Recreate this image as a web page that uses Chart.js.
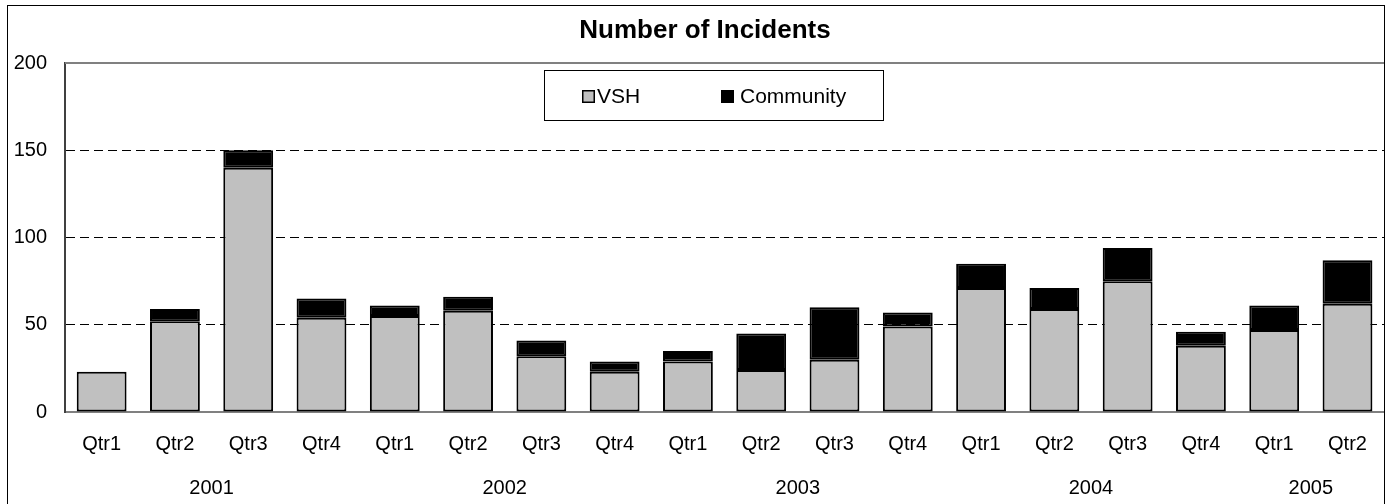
<!DOCTYPE html>
<html>
<head>
<meta charset="utf-8">
<script src="https://cdn.jsdelivr.net/npm/chart.js@4/dist/chart.umd.min.js"></script>
<style>
  html, body { margin: 0; padding: 0; background: #fff; }
  #wrap { width: 1387px; height: 504px; }
</style>
</head>
<body>
<div id="wrap"><canvas id="incidents_plot" width="1387" height="504"></canvas></div>
<script>
// quarters on the x axis, years grouped underneath
var quarters = ["Qtr1", "Qtr2", "Qtr3", "Qtr4", "Qtr1", "Qtr2", "Qtr3", "Qtr4", "Qtr1",
                "Qtr2", "Qtr3", "Qtr4", "Qtr1", "Qtr2", "Qtr3", "Qtr4", "Qtr1", "Qtr2"];
var years = ["2001", "2002", "2003", "2004", "2005"];
var quartersPerYear = [4, 4, 4, 4, 2];

var vsh = [23, 52, 140, 54, 55, 58, 32, 23, 29, 24, 30, 49, 71, 59, 75, 38, 47, 62];
var community = [0, 7, 10, 11, 6, 8, 9, 6, 6, 21, 30, 8, 14, 12, 19, 8, 14, 25];

var yTicks = [0, 50, 100, 150, 200];

var FONT = "'Liberation Sans', Arial, sans-serif";

// centre of each year group in category units
var yearCentres = [];
var start = 0;
for (var i = 0; i < years.length; i++) {
    yearCentres.push(start + (quartersPerYear[i] - 1) / 2);
    start += quartersPerYear[i];
}

var framePlugin = {
    id: "frame",
    beforeDraw: function (chart) {
        var ctx = chart.ctx;
        ctx.save();
        ctx.fillStyle = "#fff";
        ctx.fillRect(0, 0, chart.width, chart.height);
        ctx.restore();
    },
    afterDraw: function (chart) {
        var ctx = chart.ctx;
        var a = chart.chartArea;
        ctx.save();
        // top edge of plot area
        ctx.strokeStyle = "#808080";
        ctx.lineWidth = 2;
        ctx.beginPath();
        ctx.moveTo(a.left, a.top);
        ctx.lineTo(a.right, a.top);
        ctx.stroke();
        // chart border
        ctx.strokeStyle = "#000";
        ctx.lineWidth = 1;
        ctx.strokeRect(7.5, 5.5, 1377, 520);
        // title
        ctx.fillStyle = "#000";
        ctx.font = "bold 26px " + FONT;
        ctx.textAlign = "center";
        ctx.textBaseline = "alphabetic";
        ctx.fillText("Number of Incidents", 705, 38);
        // legend box
        ctx.lineWidth = 1;
        ctx.strokeStyle = "#000";
        ctx.fillStyle = "#fff";
        ctx.fillRect(544.5, 70.5, 339, 50);
        ctx.strokeRect(544.5, 70.5, 339, 50);
        var items = [[582, 597], [721, 740]];
        ctx.font = "21px " + FONT;
        ctx.textAlign = "left";
        ctx.textBaseline = "middle";
        chart.data.datasets.forEach(function (ds, k) {
            var it = items[k];
            ctx.fillStyle = ds.backgroundColor;
            ctx.fillRect(it[0], 90, 13, 13);
            ctx.lineWidth = 1.5;
            ctx.strokeStyle = "#000";
            ctx.strokeRect(it[0] + 0.75, 90.75, 11.5, 11.5);
            ctx.fillStyle = "#000";
            ctx.fillText(ds.label, it[1], 97);
        });
        ctx.restore();
    }
};

new Chart(document.getElementById("incidents_plot"), {
    type: "bar",
    data: {
        labels: quarters,
        datasets: [
            {
                label: "VSH",
                data: vsh,
                backgroundColor: "#c0c0c0",
                borderColor: "#000",
                borderWidth: 2,
                borderSkipped: false,
                categoryPercentage: 1,
                barPercentage: 0.68
            },
            {
                label: "Community",
                data: community,
                backgroundColor: "#000",
                borderColor: "#000",
                borderWidth: 2,
                borderSkipped: false,
                categoryPercentage: 1,
                barPercentage: 0.68
            }
        ]
    },
    options: {
        responsive: false,
        animation: false,
        layout: { padding: { left: 0, right: 2, top: 63, bottom: 0 } },
        plugins: {
            legend: { display: false },
            title: { display: false },
            tooltip: { enabled: false }
        },
        scales: {
            x: {
                stacked: true,
                position: "bottom",
                grid: { display: false, drawTicks: false },
                border: { display: true, color: "#808080", width: 2 },
                ticks: {
                    color: "#000",
                    font: { family: FONT, size: 20 },
                    padding: 20,
                    maxRotation: 0,
                    autoSkip: false
                },
                afterFit: function (s) { s.height = 50; }
            },
            x2: {
                type: "linear",
                position: "bottom",
                offset: false,
                bounds: "data",
                grace: 0,
                min: -0.5,
                max: quarters.length - 0.5,
                grid: { display: false, drawTicks: false, offset: false },
                border: { display: false },
                ticks: {
                    color: "#000",
                    font: { family: FONT, size: 20 },
                    padding: 14,
                    maxRotation: 0,
                    autoSkip: false,
                    callback: function (v) {
                        var idx = yearCentres.indexOf(v);
                        return idx >= 0 ? years[idx] : "";
                    }
                },
                afterBuildTicks: function (s) {
                    s.ticks = yearCentres.map(function (v) { return { value: v }; });
                },
                afterFit: function (s) { s.height = 42; }
            },
            y: {
                stacked: true,
                min: 0,
                max: 200,
                afterBuildTicks: function (s) {
                    s.ticks = yTicks.map(function (v) { return { value: v }; });
                },
                grid: {
                    drawTicks: false,
                    color: function (c) {
                        var v = c.tick ? c.tick.value : 0;
                        return (v === 0 || v === 200) ? "rgba(0,0,0,0)" : "#000";
                    },
                    lineWidth: 1
                },
                border: { display: true, color: "#404040", width: 2, dash: [9, 5] },
                ticks: {
                    color: "#000",
                    font: { family: FONT, size: 20 },
                    padding: 18
                },
                afterFit: function (s) { s.width = 65; }
            }
        }
    },
    plugins: [framePlugin]
});
</script>
</body>
</html>
